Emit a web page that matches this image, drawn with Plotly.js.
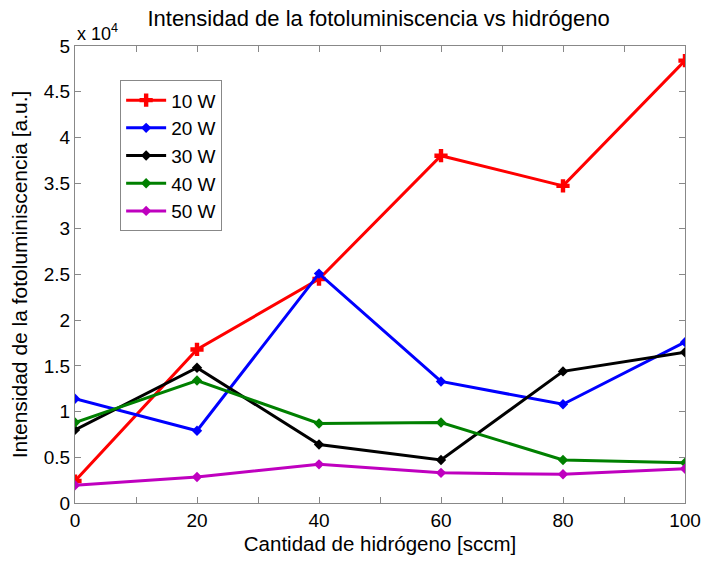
<!DOCTYPE html>
<html>
<head>
<meta charset="utf-8">
<script src="https://cdn.plot.ly/plotly-3.0.1.min.js"></script>
<style>html,body{margin:0;padding:0;background:#fff;}#chart{width:705px;height:561px;}</style>
</head>
<body>
<div id="chart"></div>
<script>
const hydrogen = [0, 20, 40, 60, 80, 100];
const seriesNames = ["10 W", "20 W", "30 W", "40 W", "50 W"];
const w10 = [2400, 16800, 24500, 38000, 34700, 48400];
const w20 = [11400, 7900, 25100, 13300, 10800, 17600];
const w30 = [8000, 14800, 6400, 4700, 14400, 16500];
const w40 = [8800, 13400, 8700, 8800, 4700, 4400];
const w50 = [1950, 2850, 4230, 3300, 3140, 3750];
const yTickVals = [0, 5000, 10000, 15000, 20000, 25000, 30000, 35000, 40000, 45000, 50000];
const yTickText = ["0", "0.5", "1", "1.5", "2", "2.5", "3", "3.5", "4", "4.5", "5"];
const xTickVals = [0, 20, 40, 60, 80, 100];

const colors = ["#ff0000", "#0000ff", "#000000", "#008000", "#bf00bf"];
const allSeries = [w10, w20, w30, w40, w50];
const traces = allSeries.map((ys, i) => ({
  x: hydrogen, y: ys, name: seriesNames[i], type: 'scatter', mode: 'lines+markers',
  line: {color: colors[i], width: 3},
  marker: {symbol: i === 0 ? 'cross' : 'diamond', size: i === 0 ? 11 : 8, color: colors[i]}
}));

const fontFam = 'Liberation Sans, Arial, sans-serif';
const layout = {
  width: 705, height: 561,
  margin: {l: 75, r: 20, t: 46, b: 58},
  paper_bgcolor: '#fff', plot_bgcolor: '#fff',
  font: {family: fontFam, size: 19, color: '#000'},
  title: {text: 'Intensidad de la fotoluminiscencia vs hidrógeno', font: {size: 22, family: fontFam}, x: 0.537, xanchor: 'center', y: 0.968, yanchor: 'middle'},
  showlegend: true,
  legend: {x: 0.074, y: 0.925, xanchor: 'left', yanchor: 'top', bordercolor: '#888', borderwidth: 1, bgcolor: '#fff', font: {size: 19, family: fontFam}, itemwidth: 40, tracegroupgap: 0},
  xaxis: {
    range: [0, 100], tickvals: xTickVals, ticks: 'inside', ticklen: 6, tickcolor: '#888',
    showline: true, linecolor: '#888', linewidth: 1, mirror: 'ticks', showgrid: false, zeroline: false,
    minor: {dtick: 10, ticks: 'inside', ticklen: 6, tickcolor: '#888', showgrid: false},
    tickfont: {size: 19}, title: {text: 'Cantidad de hidrógeno [sccm]', font: {size: 20.5}, standoff: 6}
  },
  yaxis: {
    range: [0, 50000], tickvals: yTickVals, ticktext: yTickText, ticks: 'inside', ticklen: 6, tickcolor: '#888',
    showline: true, linecolor: '#888', linewidth: 1, mirror: 'ticks', showgrid: false, zeroline: false,
    tickfont: {size: 19}, title: {text: 'Intensidad de la fotoluminiscencia [a.u.]', font: {size: 21}, standoff: 10}
  },
  annotations: [{
    text: 'x 10<sup>4</sup>', xref: 'paper', yref: 'paper', x: 0, y: 1.0, xanchor: 'left', yanchor: 'bottom',
    showarrow: false, font: {size: 18, family: fontFam}, yshift: 0
  }]
};
Plotly.newPlot('chart', traces, layout, {displayModeBar: false, staticPlot: true});
</script>
</body>
</html>
